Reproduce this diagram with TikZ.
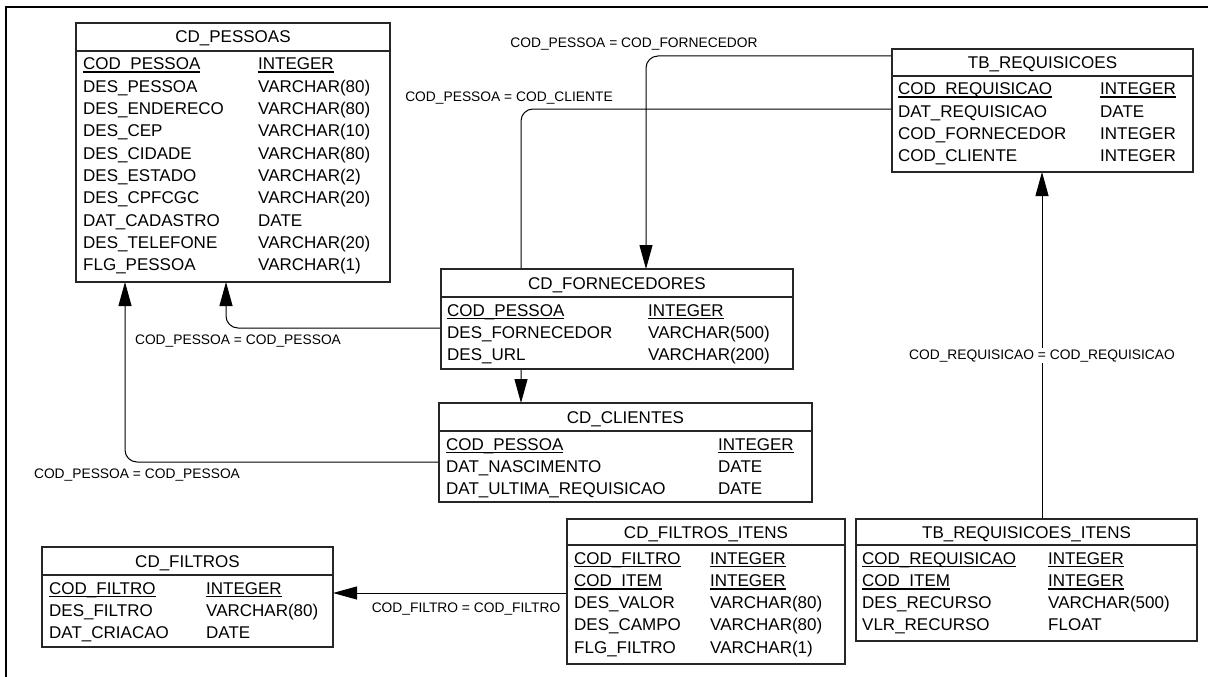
\documentclass[tikz,border=0pt]{standalone}
\usepackage{fontspec}
\setmainfont{Liberation Sans}
\usetikzlibrary{arrows.meta}
\pgfdeclarelayer{lines}
\pgfsetlayers{lines,main}

% underline used for primary-key columns
\newcommand\keyul[1]{\setbox0=\hbox{#1}\rlap{\rule[-3.4pt]{\wd0}{1.9pt}}\box0}
\newcommand\tblfont{\fontsize{17}{20}\selectfont}
\newcommand\relfont{\fontsize{13.8}{16}\selectfont}

% #1 name, #2 top-left corner, #3 width, #4 height, #5 header depth, #6 title
\newcommand\dbtable[6]{%
  \node[tbox, minimum width=#3, minimum height=#4] (#1) at (#2) {};
  \draw[hline] ([yshift=-#5pt]#1.north west) -- ([yshift=-#5pt]#1.north east);
  \node[ttl] (#1-t) at ([yshift={-#5/2-6}]#1.north) {#6};
}
% #1 table name, #2 x of column names, #3 x of types, #4 first baseline, #5 list name/type
\newcommand\fields[5]{%
  \foreach \fn/\ft [count=\i from 0] in {#5} {
    \node[cell] (#1-n\i) at (#2,{#4+22.3*\i}) {\fn};
    \node[cell] (#1-c\i) at (#3,{#4+22.3*\i}) {\ft};
  }
}

\begin{document}
\begin{tikzpicture}[x=1pt,y=-1pt,
  tbox/.style={draw=black!85, line width=1.2pt, fill=white, inner sep=0pt, outer sep=0pt, anchor=north west},
  hline/.style={draw=black!85, line width=1.2pt},
  cell/.style={anchor=base west, inner sep=0pt, font=\tblfont},
  ttl/.style={anchor=base, inner sep=0pt, font=\tblfont},
  conn/.style={draw=black, line width=1pt, rounded corners=12pt},
  tip/.style={-{Triangle[length=24pt,width=13pt]}},
  rel/.style={anchor=base, font=\relfont, inner sep=1.5pt}]

\begin{pgfonlayer}{lines}
\fill[white] (0,0) rectangle (1208,677);
\end{pgfonlayer}
\useasboundingbox (0,0) rectangle (1208,677);

% page frame
\draw[line width=2.2pt] (6,677) -- (6,7) -- (1208,7);

% tables
\dbtable{pessoas}{76,23}{314}{259}{28}{CD\_PESSOAS}
\fields{pessoas}{83}{258}{70}{{\keyul{COD\_PESSOA}}/{\keyul{INTEGER}},
  DES\_PESSOA/VARCHAR(80), DES\_ENDERECO/VARCHAR(80), DES\_CEP/VARCHAR(10),
  DES\_CIDADE/VARCHAR(80), DES\_ESTADO/VARCHAR(2), DES\_CPFCGC/VARCHAR(20),
  DAT\_CADASTRO/DATE, DES\_TELEFONE/VARCHAR(20), FLG\_PESSOA/VARCHAR(1)}

\dbtable{treq}{892,49}{301}{123}{27}{TB\_REQUISICOES}
\fields{treq}{898}{1100}{95}{{\keyul{COD\_REQUISICAO}}/{\keyul{INTEGER}},
  DAT\_REQUISICAO/DATE, COD\_FORNECEDOR/INTEGER, COD\_CLIENTE/INTEGER}

\dbtable{forn}{441,269}{352}{100}{28}{CD\_FORNECEDORES}
\fields{forn}{447}{648}{316}{{\keyul{COD\_PESSOA}}/{\keyul{INTEGER}},
  DES\_FORNECEDOR/VARCHAR(500), DES\_URL/VARCHAR(200)}

\dbtable{cli}{439,403}{373}{99}{28}{CD\_CLIENTES}
\fields{cli}{446}{718}{450}{{\keyul{COD\_PESSOA}}/{\keyul{INTEGER}},
  DAT\_NASCIMENTO/DATE, DAT\_ULTIMA\_REQUISICAO/DATE}

\dbtable{filtros}{42,547}{291}{100}{28}{CD\_FILTROS}
\fields{filtros}{49}{206}{594}{{\keyul{COD\_FILTRO}}/{\keyul{INTEGER}},
  DES\_FILTRO/VARCHAR(80), DAT\_CRIACAO/DATE}

\dbtable{fi}{567,519}{278}{145}{26}{CD\_FILTROS\_ITENS}
\fields{fi}{574}{710}{564}{{\keyul{COD\_FILTRO}}/{\keyul{INTEGER}},
  {\keyul{COD\_ITEM}}/{\keyul{INTEGER}}, DES\_VALOR/VARCHAR(80),
  DES\_CAMPO/VARCHAR(80), FLG\_FILTRO/VARCHAR(1)}

\dbtable{tri}{856,519}{341}{122}{26}{TB\_REQUISICOES\_ITENS}
\fields{tri}{862}{1048}{564}{{\keyul{COD\_REQUISICAO}}/{\keyul{INTEGER}},
  {\keyul{COD\_ITEM}}/{\keyul{INTEGER}}, DES\_RECURSO/VARCHAR(500),
  VLR\_RECURSO/FLOAT}

% bend points of the relationship lines
\coordinate (fornbend) at (646,56);
\coordinate (clibend) at (521,109);
\coordinate (fpbend) at (226,328);
\coordinate (cpbend) at (125,462);
\coordinate (filtline) at (450,593);
\coordinate (reqline) at (1042,350);

% relationships, kept under the tables
\begin{pgfonlayer}{lines}
\draw[conn,tip] (treq.west |- fornbend) -- (fornbend) -- (fornbend |- forn.north);
\draw[conn,tip] (treq.west |- clibend) -- (clibend) -- (clibend |- cli.north);
\draw[conn,tip] (forn.west |- fpbend) -- (fpbend) -- (fpbend |- pessoas.south);
\draw[conn,tip] (cli.west |- cpbend) -- (cpbend) -- (cpbend |- pessoas.south);
\draw[conn,tip] (fi.west |- filtline) -- (filtros.east |- filtline);
\draw[conn,tip] (reqline |- tri.north) -- (reqline |- treq.south);
\end{pgfonlayer}

% relationship labels
\node[rel] (l1) at (634,48) {COD\_PESSOA = COD\_FORNECEDOR};
\node[rel] (l2) at (509,102) {COD\_PESSOA = COD\_CLIENTE};
\node[rel] (l3) at (238,344) {COD\_PESSOA = COD\_PESSOA};
\node[rel] (l4) at (137,478) {COD\_PESSOA = COD\_PESSOA};
\node[rel] (l5) at (466,612) {COD\_FILTRO = COD\_FILTRO};
\node[rel, fill=white] (l6) at (1042,359) {COD\_REQUISICAO = COD\_REQUISICAO};
\end{tikzpicture}
\end{document}
